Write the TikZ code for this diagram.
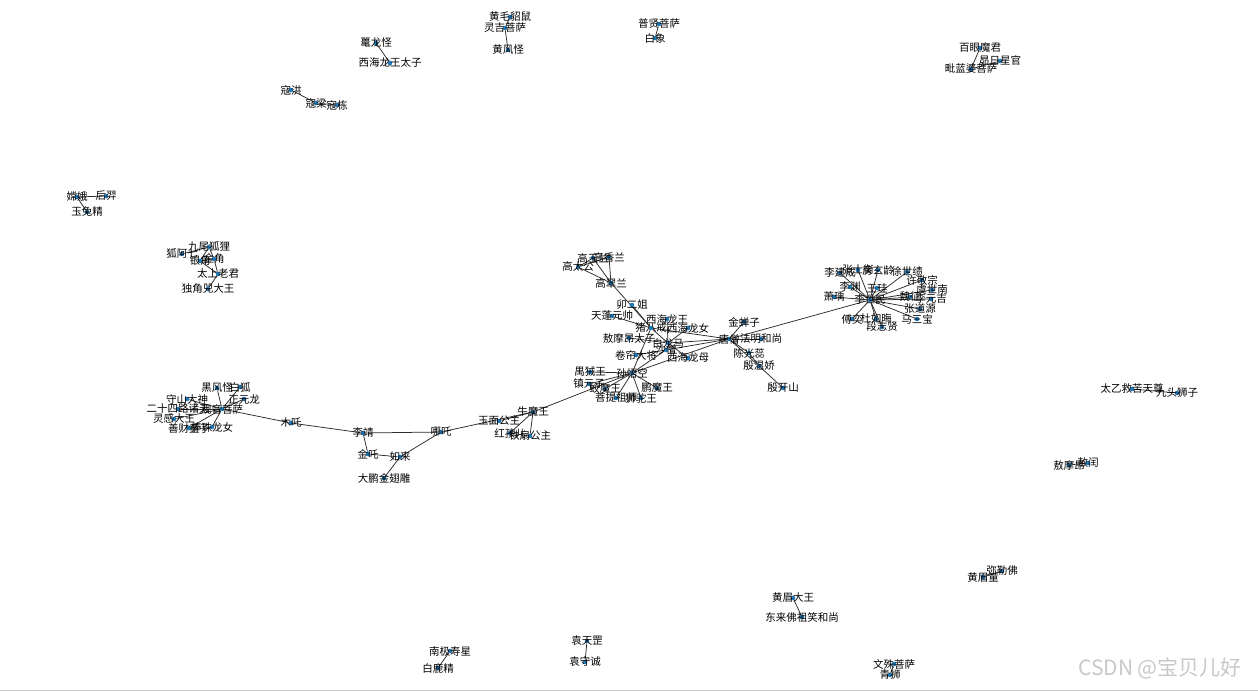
\documentclass[tikz,border=0pt]{standalone}
\usepackage{fontspec}
\setmainfont{Noto Sans CJK SC}
\usetikzlibrary{positioning}
\definecolor{dotblue}{HTML}{1F77B4}
\definecolor{linkgray}{HTML}{2B2B2B}
\definecolor{markgray}{HTML}{C8C8C8}
\pgfdeclarelayer{back}
\pgfsetlayers{back,main}

\begin{document}
\begin{tikzpicture}[
  x=1pt, y=-1pt,
  namefont/.style={font=\fontsize{10.5}{12}\selectfont, inner sep=0pt, text=black},
  person/.style={circle, fill=dotblue, inner sep=0pt, minimum size=4.6pt,
                 label={[namefont]center:#1}},
  link/.style={draw=linkgray, line width=0.75pt}
]
  \useasboundingbox (0,0) rectangle (1258,692);
  \draw[markgray, line width=1pt] (0,690) -- (1258,690);

  % small groups along the top
  \node[person=黄毛貂鼠] (hmdiao) at (510,17) {};
  \node[person=灵吉菩萨] (lingji) at (505,28) {};
  \node[person=黄风怪] (huangfeng) at (508,50) {};
  \node[person=普贤菩萨] (puxian) at (659,24) {};
  \node[person=白象] (baixiang) at (655,38) {};
  \node[person=鼍龙怪] (tuolong) at (376,43) {};
  \node[person=西海龙王太子] (xhtaizi) at (390,63) {};
  \node[person=寇洪] (kouhong) at (291,90) {};
  \node[person=寇梁] (kouliang) at (316,103) {};
  \node[person=寇栋] (koudong) at (337,105) {};
  \node[person=百眼魔君] (baiyan) at (980,48) {};
  \node[person=昴日星官] (maori) at (1000,61) {};
  \node[person=毗蓝婆菩萨] (pilanpo) at (971,69) {};

  % left groups
  \node[person=嫦娥] (change) at (77,197) {};
  \node[person=后羿] (houyi) at (106,196) {};
  \node[person=玉兔精] (yutu) at (87,212) {};
  \node[person=九尾狐狸] (jiuwei) at (209,247) {};
  \node[person=狐阿七] (huaqi) at (182,254) {};
  \node[person=银角] (yinjiao) at (200,261) {};
  \node[person=金角] (jinjiao) at (214,259) {};
  \node[person=太上老君] (laojun) at (218,274) {};
  \node[person=独角兕大王] (dujiao) at (208,289) {};

  % Gao family and the pilgrims
  \node[person=高太公] (gaotg) at (578,267) {};
  \node[person=高玉兰] (gaoyl) at (593,258) {};
  \node[person=高香兰] (gaoxl) at (609,257) {};
  \node[person=高翠兰] (gaocl) at (611,283) {};
  \node[person=卯二姐] (maoerjie) at (632,305) {};
  \node[person=天蓬元帅] (tianpeng) at (612,316) {};
  \node[person=西海龙王] (xhlongwang) at (667,319) {};
  \node[person=猪八戒] (bajie) at (651,328) {};
  \node[person=西海龙女] (xhlongnv) at (688,328) {};
  \node[person=敖摩昂太子] (aomoang) at (629,338) {};
  \node[person=白龙马] (bailongma) at (668,343) {};
  \node[person=沙僧] (shaseng) at (666,350) {};
  \node[person=卷帘大将] (juanlian) at (636,355) {};
  \node[person=西海龙母] (xhlongmu) at (688,358) {};
  \node[person=唐僧] (tangseng) at (729,339) {};
  \node[person=法明和尚] (faming) at (761,339) {};
  \node[person=金蝉子] (jinchan) at (744,322) {};
  \node[person=陈光蕊] (chenguangrui) at (749,353) {};
  \node[person=殷温娇] (yinwenjiao) at (759,366) {};
  \node[person=殷开山] (yinkaishan) at (783,388) {};

  \node[person=孙悟空] (wukong) at (632,373) {};
  \node[person=禺狨王] (yurong) at (590,372) {};
  \node[person=镇元子] (zhenyuan) at (589,384) {};
  \node[person=蛟魔王] (jiaomo) at (605,389) {};
  \node[person=鹏魔王] (pengmo) at (657,388) {};
  \node[person=菩提祖师] (puti) at (616,398) {};
  \node[person=狮驼王] (shituo) at (641,398) {};

  % Bull Demon King, Li Jing and Guanyin
  \node[person=牛魔王] (niumo) at (533,412) {};
  \node[person=玉面公主] (yumian) at (499,421) {};
  \node[person=红孩儿] (honghaier) at (510,433) {};
  \node[person=铁扇公主] (tieshan) at (530,436) {};
  \node[person=哪吒] (nezha) at (441,432) {};
  \node[person=李靖] (lijing) at (363,433) {};
  \node[person=金吒] (jinzha) at (368,454) {};
  \node[person=如来] (rulai) at (400,457) {};
  \node[person=大鹏金翅雕] (dapeng) at (384,478) {};
  \node[person=木吒] (muzha) at (291,423) {};
  \node[person=观音菩萨] (guanyin) at (222,409) {};
  \node[person=二十四路诸天] (zhutian) at (178,409) {};
  \node[person=守山大神] (shoushan) at (187,399) {};
  \node[person=正元龙] (zhengyuan) at (244,399) {};
  \node[person=黑风怪] (heifeng) at (217,388) {};
  \node[person=白狐] (baihu) at (240,387) {};
  \node[person=灵感大王] (linggan) at (174,419) {};
  \node[person=善财童子] (shancai) at (189,428) {};
  \node[person=捧珠龙女] (longnv) at (212,427) {};

  % Tang court
  \node[person=李世民] (shimin) at (870,300) {};
  \node[person=李建成] (jiancheng) at (840,273) {};
  \node[person=张士衡] (shiheng) at (858,270) {};
  \node[person=房玄龄] (xuanling) at (878,270) {};
  \node[person=徐世绩] (shiji) at (907,272) {};
  \node[person=李渊] (liyuan) at (850,287) {};
  \node[person=王珪] (wanggui) at (877,288) {};
  \node[person=许敬宗] (jingzong) at (922,280) {};
  \node[person=虞世南] (shinan) at (932,290) {};
  \node[person=萧瑀] (xiaoyu) at (834,297) {};
  \node[person=魏征] (weizheng) at (910,297) {};
  \node[person=李元吉] (yuanji) at (931,299) {};
  \node[person=张道源] (daoyuan) at (920,309) {};
  \node[person=傅奕] (fuyi) at (852,319) {};
  \node[person=杜如晦] (duruhui) at (876,319) {};
  \node[person=马三宝] (sanbao) at (917,319) {};
  \node[person=段志贤] (zhixian) at (882,327) {};

  % pairs on the right and bottom
  \node[person=太乙救苦天尊] (taiyi) at (1132,389) {};
  \node[person=九头狮子] (jiutou) at (1177,393) {};
  \node[person=敖摩昂] (aomo) at (1069,465) {};
  \node[person=敖闰] (aorun) at (1088,463) {};
  \node[person=南极寿星] (nanji) at (450,651) {};
  \node[person=白鹿精] (bailu) at (438,668) {};
  \node[person=袁天罡] (tiangang) at (587,641) {};
  \node[person=袁守诚] (shoucheng) at (585,662) {};
  \node[person=黄眉大王] (huangmei) at (793,598) {};
  \node[person=东来佛祖笑和尚] (donglai) at (802,617) {};
  \node[person=文殊菩萨] (wenshu) at (894,664) {};
  \node[person=青狮] (qingshi) at (890,675) {};
  \node[person=黄眉童] (meitong) at (983,577) {};
  \node[person=弥勒佛] (mile) at (1002,571) {};

  \node[text=markgray, font=\fontsize{21}{24}\selectfont] (mark) at (1160,668) {CSDN @宝贝儿好};

  \begin{pgfonlayer}{back}
    \draw[link] (hmdiao) -- (lingji) -- (huangfeng);
    \draw[link] (puxian) -- (baixiang);
    \draw[link] (tuolong) -- (xhtaizi);
    \draw[link] (kouhong) -- (kouliang) -- (koudong);
    \draw[link] (pilanpo) -- (baiyan);
    \draw[link] (pilanpo) -- (maori);
    \draw[link] (change) -- (houyi);
    \draw[link] (change) -- (yutu);
    \draw[link] (huaqi) -- (jiuwei);
    \draw[link] (jiuwei) -- (jinjiao);
    \draw[link] (jiuwei) -- (yinjiao);
    \draw[link] (jinjiao) -- (yinjiao);
    \draw[link] (laojun) -- (jinjiao);
    \draw[link] (laojun) -- (yinjiao);
    \draw[link] (laojun) -- (dujiao);

    \draw[link] (gaotg) -- (gaoyl);
    \draw[link] (gaotg) -- (gaoxl);
    \draw[link] (gaotg) -- (gaocl);
    \draw[link] (gaoyl) -- (gaocl);
    \draw[link] (gaoxl) -- (gaocl);
    \draw[link] (gaocl) -- (bajie);
    \draw[link] (maoerjie) -- (bajie);
    \draw[link] (tianpeng) -- (bajie);
    \draw[link] (bajie) -- (tangseng);
    \draw[link] (bajie) -- (wukong);
    \draw[link] (bajie) -- (bailongma);
    \draw[link] (bailongma) -- (xhlongwang);
    \draw[link] (bailongma) -- (xhlongnv);
    \draw[link] (bailongma) -- (xhlongmu);
    \draw[link] (bailongma) -- (aomoang);
    \draw[link] (bailongma) -- (tangseng);
    \draw[link] (shaseng) -- (juanlian);
    \draw[link] (shaseng) -- (tangseng);
    \draw[link] (shaseng) -- (wukong);
    \draw[link] (tangseng) -- (wukong);
    \draw[link] (tangseng) -- (jinchan);
    \draw[link] (tangseng) -- (faming);
    \draw[link] (tangseng) -- (chenguangrui);
    \draw[link] (tangseng) -- (yinwenjiao);
    \draw[link] (chenguangrui) -- (yinwenjiao);
    \draw[link] (yinwenjiao) -- (yinkaishan);
    \draw[link] (tangseng) -- (shimin);

    \draw[link] (wukong) -- (yurong);
    \draw[link] (wukong) -- (zhenyuan);
    \draw[link] (wukong) -- (jiaomo);
    \draw[link] (wukong) -- (pengmo);
    \draw[link] (wukong) -- (puti);
    \draw[link] (wukong) -- (shituo);
    \draw[link] (wukong) -- (niumo);

    \draw[link] (niumo) -- (yumian);
    \draw[link] (niumo) -- (honghaier);
    \draw[link] (niumo) -- (tieshan);
    \draw[link] (honghaier) -- (tieshan);
    \draw[link] (niumo) -- (nezha);
    \draw[link] (nezha) -- (lijing);
    \draw[link] (nezha) -- (rulai);
    \draw[link] (lijing) -- (jinzha);
    \draw[link] (jinzha) -- (rulai);
    \draw[link] (rulai) -- (dapeng);
    \draw[link] (lijing) -- (muzha);
    \draw[link] (muzha) -- (guanyin);
    \draw[link] (guanyin) -- (zhutian);
    \draw[link] (guanyin) -- (shoushan);
    \draw[link] (guanyin) -- (zhengyuan);
    \draw[link] (guanyin) -- (heifeng);
    \draw[link] (guanyin) -- (baihu);
    \draw[link] (guanyin) -- (linggan);
    \draw[link] (guanyin) -- (shancai);
    \draw[link] (guanyin) -- (longnv);

    \draw[link] (shimin) -- (jiancheng);
    \draw[link] (shimin) -- (shiheng);
    \draw[link] (shimin) -- (xuanling);
    \draw[link] (shimin) -- (shiji);
    \draw[link] (shimin) -- (liyuan);
    \draw[link] (shimin) -- (wanggui);
    \draw[link] (shimin) -- (jingzong);
    \draw[link] (shimin) -- (shinan);
    \draw[link] (shimin) -- (xiaoyu);
    \draw[link] (shimin) -- (weizheng);
    \draw[link] (shimin) -- (yuanji);
    \draw[link] (shimin) -- (daoyuan);
    \draw[link] (shimin) -- (fuyi);
    \draw[link] (shimin) -- (duruhui);
    \draw[link] (shimin) -- (sanbao);
    \draw[link] (shimin) -- (zhixian);

    \draw[link] (taiyi) -- (jiutou);
    \draw[link] (aomo) -- (aorun);
    \draw[link] (nanji) -- (bailu);
    \draw[link] (tiangang) -- (shoucheng);
    \draw[link] (huangmei) -- (donglai);
    \draw[link] (wenshu) -- (qingshi);
    \draw[link] (meitong) -- (mile);
  \end{pgfonlayer}
\end{tikzpicture}
\end{document}
